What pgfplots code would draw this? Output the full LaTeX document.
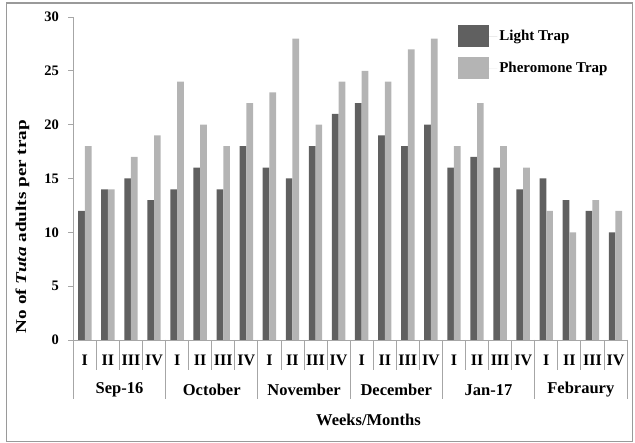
\documentclass[border=0pt]{standalone}
\usepackage{fontspec}
\setmainfont{Liberation Serif}
\usepackage{pgfplots}
\pgfplotsset{compat=1.18}
\definecolor{darkbar}{HTML}{606060}
\definecolor{lightbar}{HTML}{B4B4B4}
\definecolor{axgray}{HTML}{A6A6A6}
\definecolor{framegray}{HTML}{9A9A9A}
\begin{document}
\begin{tikzpicture}[x=1pt,y=1pt]
\useasboundingbox (0,0) rectangle (635,443);
\draw[framegray, line width=1.2pt] (6.5,1.5) rectangle (632.5,440);
\node[rotate=90, font=\fontsize{15}{17}\selectfont\bfseries, inner sep=0pt] at (22.5,216.5) {\scalebox{1.28}[1]{No of \textit{Tuta} adults per trap}};
\begin{axis}[
  at={(73.3pt,103pt)}, anchor=south west,
  scale only axis, width=553.7pt, height=323pt,
  xmin=-0.5, xmax=23.5, ymin=0, ymax=30,
  axis x line*=bottom, axis y line*=left,
  axis line style={axgray, line width=0.8pt},
  ytick={0,5,...,30}, xtick=\empty,
  tick align=outside, major tick length=5pt,
  ytick style={axgray, line width=0.8pt},
  /pgf/number format/assume math mode=true,
  yticklabel style={font=\fontsize{14.5}{16}\selectfont\bfseries, xshift=-6pt},
  ybar=0pt, bar width=6.7pt,
  xlabel={Weeks/Months},
  xlabel style={font=\fontsize{16.5}{18}\selectfont\bfseries, at={(axis description cs:0.533,0)}, anchor=center, yshift=-80pt},
  legend style={draw=none, fill=none, at={(axis description cs:0.695,0.975)}, anchor=north west, inner sep=0pt, row sep=10pt, font=\fontsize{15}{17}\selectfont\bfseries},
  legend cell align=left,
  legend image code/.code={\fill[#1] (0pt,-11pt) rectangle (31pt,11pt); \path (0pt,0pt) -- (39pt,0pt);},
  clip=false,
]
\addplot[fill=darkbar, draw=none] coordinates {
(0,12) (1,14) (2,15) (3,13) (4,14) (5,16) (6,14) (7,18) (8,16) (9,15) (10,18) (11,21)
(12,22) (13,19) (14,18) (15,20) (16,16) (17,17) (18,16) (19,14) (20,15) (21,13) (22,12) (23,10)};
\addplot[fill=lightbar, draw=none] coordinates {
(0,18) (1,14) (2,17) (3,19) (4,24) (5,20) (6,18) (7,22) (8,23) (9,28) (10,20) (11,24)
(12,25) (13,24) (14,27) (15,28) (16,18) (17,22) (18,18) (19,16) (20,12) (21,10) (22,13) (23,12)};
\legend{Light Trap, Pheromone Trap}
\pgfplotsinvokeforeach{-0.5,0.5,1.5,2.5,3.5,4.5,5.5,6.5,7.5,8.5,9.5,10.5,11.5,12.5,13.5,14.5,15.5,16.5,17.5,18.5,19.5,20.5,21.5,22.5,23.5}{
  \draw[axgray, line width=0.8pt] (axis cs:#1,0) -- ([yshift=-30pt]axis cs:#1,0);
}
\pgfplotsinvokeforeach{-0.5,3.5,7.5,11.5,15.5,19.5,23.5}{
  \draw[axgray, line width=0.8pt] (axis cs:#1,0) -- ([yshift=-59pt]axis cs:#1,0);
}
\pgfplotsinvokeforeach{0,4,8,12,16,20}{
  \node[font=\fontsize{16}{18}\selectfont\bfseries] at (axis cs:#1,0) [yshift=-20pt] {I};
}
\pgfplotsinvokeforeach{1,5,9,13,17,21}{
  \node[font=\fontsize{16}{18}\selectfont\bfseries] at (axis cs:#1,0) [yshift=-20pt] {II};
}
\pgfplotsinvokeforeach{2,6,10,14,18,22}{
  \node[font=\fontsize{16}{18}\selectfont\bfseries] at (axis cs:#1,0) [yshift=-20pt] {III};
}
\pgfplotsinvokeforeach{3,7,11,15,19,23}{
  \node[font=\fontsize{16}{18}\selectfont\bfseries] at (axis cs:#1,0) [yshift=-20pt] {IV};
}
\node[font=\fontsize{16.5}{18}\selectfont\bfseries] at (axis cs:1.5,0) [yshift=-50pt] {Sep-16};
\node[font=\fontsize{16.5}{18}\selectfont\bfseries] at (axis cs:5.5,0) [yshift=-50pt] {October};
\node[font=\fontsize{16.5}{18}\selectfont\bfseries] at (axis cs:9.5,0) [yshift=-50pt] {November};
\node[font=\fontsize{16.5}{18}\selectfont\bfseries] at (axis cs:13.5,0) [yshift=-50pt] {December};
\node[font=\fontsize{16.5}{18}\selectfont\bfseries] at (axis cs:17.5,0) [yshift=-50pt] {Jan-17};
\node[font=\fontsize{16.5}{18}\selectfont\bfseries] at (axis cs:21.5,0) [yshift=-50pt] {Febraury};
\end{axis}
\end{tikzpicture}
\end{document}
